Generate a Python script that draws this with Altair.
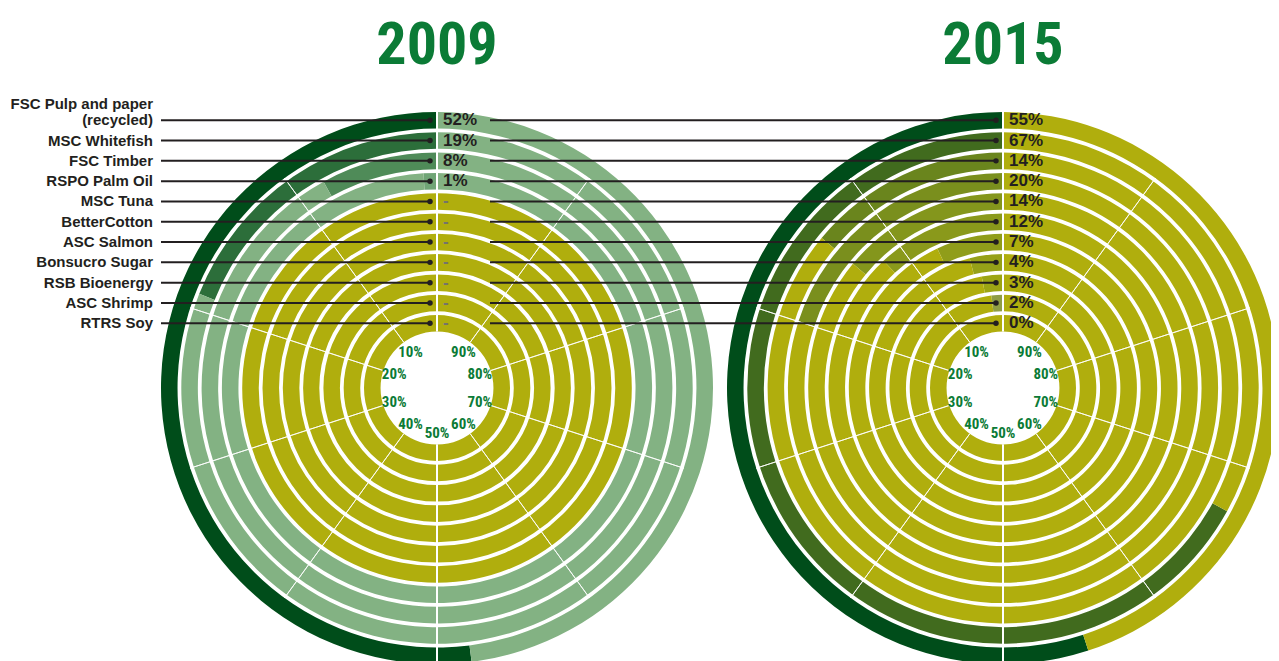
import math
import altair as alt
import pandas as pd

# ---------------- data ----------------
categories = [
    "FSC Pulp and paper\n(recycled)", "MSC Whitefish", "FSC Timber", "RSPO Palm Oil",
    "MSC Tuna", "BetterCotton", "ASC Salmon", "Bonsucro Sugar", "RSB Bioenergy",
    "ASC Shrimp", "RTRS Soy",
]
years = ["2009", "2015"]
values_2009 = [52, 19, 8, 1, None, None, None, None, None, None, None]
values_2015 = [55, 67, 14, 20, 14, 12, 7, 4, 3, 2, 0]
fill_2009 = ["#004d1a", "#2c6e3a", "#4f8b58", "#70a576", None, None, None, None, None, None, None]
fill_2015 = ["#004d1a", "#416b1e", "#6a851d", "#7a8f1d", "#84961c", "#8a991b",
             "#909d1a", "#96a118", "#9ca514", "#8f9d45", "#b0ae0d"]
rest_2009 = "#83b283"
rest_2015 = "#b0ae0d"
no_data = "#b0ae0d"
tick_values = [10, 20, 30, 40, 50, 60, 70, 80, 90]
tick_labels = ["10%", "20%", "30%", "40%", "50%", "60%", "70%", "80%", "90%"]
main_ticks = [0, 50]

# ---------------- layout / style ----------------
W, H = 1263, 653
CX = {"2009": 429, "2015": 995}
CY = 380
R_OUT = 276
PITCH = 20.3
BAND = 0.815          # fraction of pitch filled by a ring
N = len(categories)
INK = "#231f20"
GREEN = "#0b7b36"
NARROW = ("Noto Sans ExtraCondensed, Noto Sans Extra Condensed, Noto Sans ExtCond, "
          "Noto Sans Condensed, Roboto Condensed, DejaVu Sans Condensed, sans-serif")
SANS = "Liberation Sans, Arial, sans-serif"

theta_scale = alt.Scale(domain=[0, 100], range=[2 * math.pi, 0])
radius_scale = alt.Scale(type="linear", domain=[0, N], range=[R_OUT, R_OUT - N * PITCH])
y_scale = alt.Scale(domain=[0, N], range=[CY - R_OUT, CY - R_OUT + N * PITCH])

series = {
    "2009": (values_2009, fill_2009, rest_2009),
    "2015": (values_2015, fill_2015, rest_2015),
}

layers = []
for yr in years:
    vals, fills, rest = series[yr]
    segs = []
    for k, v in enumerate(vals):
        if v is None:
            segs.append({"ring": k, "start": 0, "end": 100, "color": no_data})
        else:
            if v > 0:
                segs.append({"ring": k, "start": 0, "end": v, "color": fills[k]})
            segs.append({"ring": k, "start": v, "end": 100, "color": rest})
    seg_df = pd.DataFrame(segs)
    cx = CX[yr]

    arcs = alt.Chart(seg_df).transform_calculate(
        r_in=f"datum.ring + {BAND}"
    ).mark_arc().encode(
        x=alt.value(cx), y=alt.value(CY),
        theta=alt.Theta("start:Q", scale=theta_scale, stack=False),
        theta2="end:Q",
        radius=alt.Radius("ring:Q", scale=radius_scale),
        radius2="r_in:Q",
        color=alt.Color("color:N", scale=None),
    )
    layers.append(arcs)

    thin_df = pd.DataFrame({"pct": tick_values})
    thin = alt.Chart(thin_df).transform_calculate(
        r_from=f"{BAND}", r_to=f"{N - 1 + BAND}"
    ).mark_arc(fillOpacity=0, stroke="white", strokeWidth=1, strokeOpacity=0.85).encode(
        x=alt.value(cx), y=alt.value(CY),
        theta=alt.Theta("pct:Q", scale=theta_scale, stack=False),
        theta2="pct:Q",
        radius=alt.Radius("r_from:Q", scale=radius_scale),
        radius2="r_to:Q",
    )
    layers.append(thin)

    thick_df = pd.DataFrame({"pct": main_ticks})
    thick = alt.Chart(thick_df).transform_calculate(
        r_from="0", r_to=f"{N - 1 + BAND}"
    ).mark_arc(fillOpacity=0, stroke="white", strokeWidth=2).encode(
        x=alt.value(cx), y=alt.value(CY),
        theta=alt.Theta("pct:Q", scale=theta_scale, stack=False),
        theta2="pct:Q",
        radius=alt.Radius("r_from:Q", scale=radius_scale),
        radius2="r_to:Q",
    )
    layers.append(thick)

    lbl_df = pd.DataFrame({"pct": tick_values, "label": tick_labels})
    inner = alt.Chart(lbl_df).mark_text(
        font=NARROW, fontSize=15, fontWeight="bold", color=GREEN,
        align="center", baseline="middle",
    ).encode(
        x=alt.value(cx), y=alt.value(CY),
        theta=alt.Theta("pct:Q", scale=theta_scale, stack=False),
        radius=alt.value(45),
        text="label:N",
    )
    layers.append(inner)

    title = alt.Chart(pd.DataFrame({"t": [yr]})).mark_text(
        font=NARROW, fontSize=60, fontWeight="bold", color=GREEN,
        align="center", baseline="alphabetic",
    ).encode(x=alt.value(cx), y=alt.value(56), text="t:N")
    layers.append(title)

    # value labels next to the start line
    pct_df = pd.DataFrame({
        "ring": list(range(N)),
        "txt": [("-" if v is None else f"{v}%") for v in vals],
        "na": [v is None for v in vals],
    })
    pct = alt.Chart(pct_df).transform_calculate(
        mid=f"datum.ring + {BAND / 2}"
    ).mark_text(
        font=SANS, fontSize=17, fontWeight="bold", align="left", baseline="middle",
    ).encode(
        x=alt.value(cx + 6),
        y=alt.Y("mid:Q", scale=y_scale, axis=None),
        text="txt:N",
        color=alt.condition("datum.na", alt.value("#74746a"), alt.value(INK)),
    )
    layers.append(pct)

# connector lines and dots
rows_df = pd.DataFrame({
    "ring": list(range(N)),
    "label": [c.split("\n")[-1] for c in categories],
    "top": [c.split("\n")[0] if "\n" in c else "" for c in categories],
})
mid_calc = {"mid": f"datum.ring + {BAND / 2}"}
ypos = alt.Y("mid:Q", scale=y_scale, axis=None)

for x1, x2 in ((153, 422), (482, 988)):
    layers.append(
        alt.Chart(rows_df).transform_calculate(**mid_calc)
        .mark_rule(color=INK, strokeWidth=2)
        .encode(x=alt.value(x1), x2=alt.value(x2), y=ypos)
    )
    layers.append(
        alt.Chart(rows_df).transform_calculate(**mid_calc)
        .mark_circle(color=INK, opacity=1, size=30)
        .encode(x=alt.value(x2), y=ypos)
    )

layers.append(
    alt.Chart(rows_df).transform_calculate(**mid_calc)
    .mark_text(font=SANS, fontSize=15, fontWeight="bold", color=INK, align="right", baseline="middle")
    .encode(x=alt.value(145), y=ypos, text="label:N")
)
layers.append(
    alt.Chart(rows_df).transform_filter("datum.top != ''").transform_calculate(**mid_calc)
    .mark_text(font=SANS, fontSize=15, fontWeight="bold", color=INK, align="right", baseline="middle", dy=-16)
    .encode(x=alt.value(145), y=ypos, text="top:N")
)

chart = alt.layer(*layers).properties(
    width=W, height=H, autosize="none", padding=0, background="white",
).configure_view(stroke=None)

chart.save("out.html", embed_options={"renderer": "svg", "actions": False})
